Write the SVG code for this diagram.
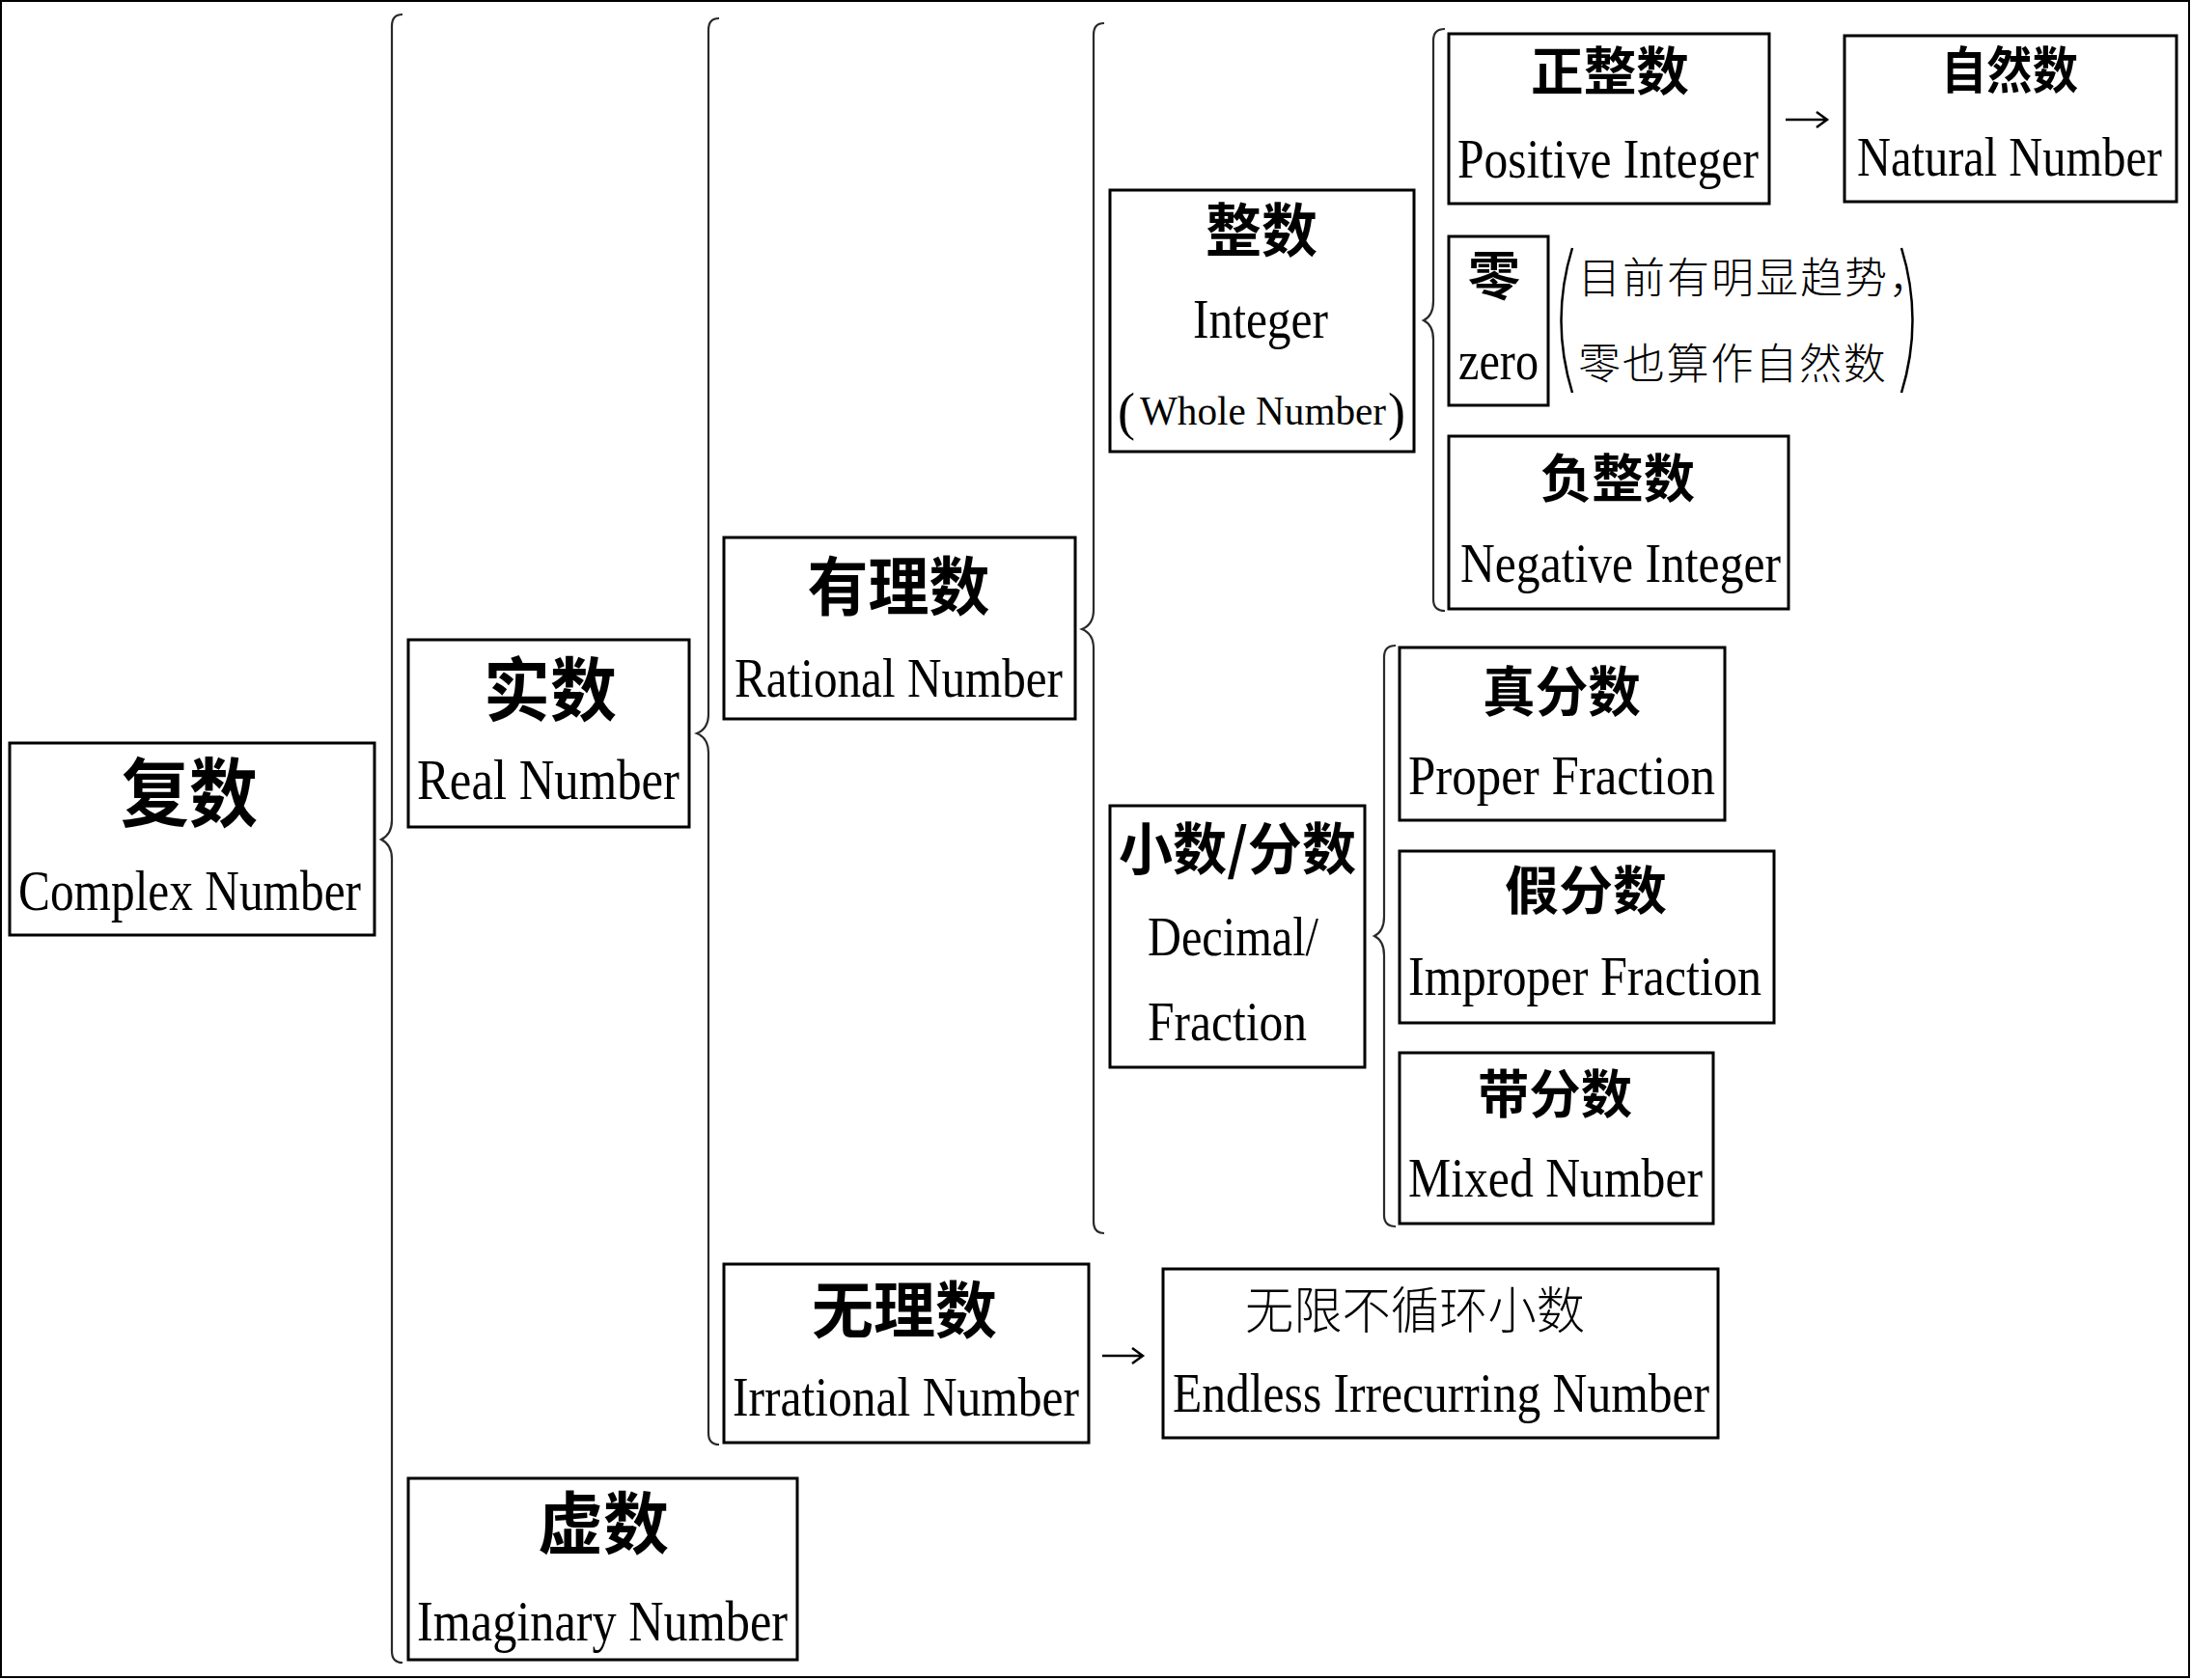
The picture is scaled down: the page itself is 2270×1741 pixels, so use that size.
<svg xmlns="http://www.w3.org/2000/svg" width="2270" height="1741" viewBox="0 0 2270 1741">
<style>
.box{fill:#fff;stroke:#000;stroke-width:3}
.zh{font-family:"Noto Sans CJK SC","Noto Sans CJK TC",sans-serif;font-weight:700;fill:#000;text-anchor:middle}
.zm{font-family:"Noto Sans CJK SC","Noto Sans CJK TC",sans-serif;font-weight:300;fill:#000;text-anchor:middle}
.zl{font-family:"Noto Sans CJK SC","Noto Sans CJK TC",sans-serif;font-weight:300;fill:#000}
.en{font-family:"Liberation Serif","Times New Roman",serif;fill:#000}
.brace{fill:none;stroke:#2a2a2a;stroke-width:2.2}
.arrow{fill:none;stroke:#000;stroke-width:2.5}
.paren{fill:none;stroke:#000;stroke-width:2.5}
</style>
<rect x="1" y="1" width="2267" height="1737" fill="#fff" stroke="#000" stroke-width="2"/>

<g id="connectors">
  <path class="brace" d="M417,15 Q406,15 406,27 L406,850 C406,864 399,868 395,870 C399,872 406,876 406,890 L406,1711 Q406,1723 417,1723"/>
  <path class="brace" d="M745,19 Q734,19 734,31 L734,740 C734,754 727,758 722,760 C727,762 734,766 734,780 L734,1485 Q734,1497 745,1497"/>
  <path class="brace" d="M1144,24 Q1133,24 1133,36 L1133,632 C1133,646 1126,650 1121,652 C1126,654 1133,658 1133,672 L1133,1266 Q1133,1278 1144,1278"/>
  <path class="brace" d="M1497,30 Q1485,30 1485,42 L1485,312 C1485,326 1479,330 1475,332 C1479,334 1485,338 1485,352 L1485,621 Q1485,633 1497,633"/>
  <path class="brace" d="M1446,669 Q1434,669 1434,681 L1434,950 C1434,964 1428,968 1424,970 C1428,972 1434,976 1434,990 L1434,1259 Q1434,1271 1446,1271"/>
  <path class="arrow" d="M1850,124 L1893,124 M1882,116 L1893,124 L1882,132"/>
  <path class="arrow" d="M1142,1405 L1184,1405 M1173,1397 L1184,1405 L1173,1413"/>
</g>

<g id="complex">
  <rect class="box" x="10" y="770" width="378" height="199"/>
  <text class="zh" x="196" y="851" font-size="78" textLength="142" lengthAdjust="spacingAndGlyphs">复数</text>
  <text class="en" x="19" y="943" font-size="60" textLength="355" lengthAdjust="spacingAndGlyphs">Complex Number</text>
</g>

<g id="real">
  <rect class="box" x="423" y="663" width="291" height="194"/>
  <text class="zh" x="570" y="741" font-size="72" textLength="138" lengthAdjust="spacingAndGlyphs">实数</text>
  <text class="en" x="432" y="828" font-size="60" textLength="272" lengthAdjust="spacingAndGlyphs">Real Number</text>
</g>

<g id="imaginary">
  <rect class="box" x="423" y="1532" width="403" height="188"/>
  <text class="zh" x="625" y="1605" font-size="70" textLength="136" lengthAdjust="spacingAndGlyphs">虚数</text>
  <text class="en" x="432" y="1700" font-size="60" textLength="384" lengthAdjust="spacingAndGlyphs">Imaginary Number</text>
</g>

<g id="rational">
  <rect class="box" x="750" y="557" width="364" height="188"/>
  <text class="zh" x="931" y="632" font-size="66" textLength="189" lengthAdjust="spacingAndGlyphs">有理数</text>
  <text class="en" x="761" y="722" font-size="58" textLength="340" lengthAdjust="spacingAndGlyphs">Rational Number</text>
</g>

<g id="irrational">
  <rect class="box" x="750" y="1310" width="378" height="185"/>
  <text class="zh" x="937" y="1381" font-size="64" textLength="192" lengthAdjust="spacingAndGlyphs">无理数</text>
  <text class="en" x="759" y="1467" font-size="58" textLength="359" lengthAdjust="spacingAndGlyphs">Irrational Number</text>
</g>

<g id="endless">
  <rect class="box" x="1205" y="1315" width="575" height="175"/>
  <text class="zm" x="1466" y="1377" font-size="52" textLength="352" lengthAdjust="spacingAndGlyphs">无限不循环小数</text>
  <text class="en" x="1215" y="1463" font-size="57" textLength="556" lengthAdjust="spacingAndGlyphs">Endless Irrecurring Number</text>
</g>

<g id="integer">
  <rect class="box" x="1150" y="197" width="315" height="271"/>
  <text class="zh" x="1307" y="261" font-size="60" textLength="116" lengthAdjust="spacingAndGlyphs">整数</text>
  <text class="en" x="1236" y="350" font-size="57" textLength="140" lengthAdjust="spacingAndGlyphs">Integer</text>
  <text class="en" x="1158" y="445" font-size="54">(</text>
  <text class="en" x="1181" y="440" font-size="42" textLength="255" lengthAdjust="spacingAndGlyphs">Whole Number</text>
  <text class="en" x="1438" y="445" font-size="54">)</text>
</g>

<g id="decimal">
  <rect class="box" x="1150" y="835" width="264" height="271"/>
  <text class="zh" x="1282" y="901" font-size="58" textLength="246" lengthAdjust="spacingAndGlyphs">小数/分数</text>
  <text class="en" x="1189" y="990" font-size="56" textLength="177" lengthAdjust="spacingAndGlyphs">Decimal/</text>
  <text class="en" x="1189" y="1078" font-size="56" textLength="165" lengthAdjust="spacingAndGlyphs">Fraction</text>
</g>

<g id="positive">
  <rect class="box" x="1501" y="35" width="332" height="176"/>
  <text class="zh" x="1668" y="94" font-size="54" textLength="164" lengthAdjust="spacingAndGlyphs">正整数</text>
  <text class="en" x="1510" y="184" font-size="56" textLength="312" lengthAdjust="spacingAndGlyphs">Positive Integer</text>
</g>

<g id="natural">
  <rect class="box" x="1911" y="37" width="344" height="172"/>
  <text class="zh" x="2082" y="92" font-size="52" textLength="142" lengthAdjust="spacingAndGlyphs">自然数</text>
  <text class="en" x="1924" y="182" font-size="56" textLength="316" lengthAdjust="spacingAndGlyphs">Natural Number</text>
</g>

<g id="zero">
  <rect class="box" x="1501" y="245" width="103" height="175"/>
  <text class="zh" x="1548" y="306" font-size="54">零</text>
  <text class="en" x="1511" y="393" font-size="56" textLength="83" lengthAdjust="spacingAndGlyphs">zero</text>
</g>

<g id="zero-note">
  <path class="paren" d="M1629,257 Q1606,332 1629,407"/>
  <path class="paren" d="M1970,257 Q1993,332 1970,407"/>
  <text class="zl" x="1635" y="304" font-size="44" letter-spacing="2">目前有明显趋势，</text>
  <text class="zl" x="1635" y="393" font-size="44" letter-spacing="1.8">零也算作自然数</text>
</g>

<g id="negative">
  <rect class="box" x="1501" y="452" width="352" height="179"/>
  <text class="zh" x="1676" y="516" font-size="54" textLength="160" lengthAdjust="spacingAndGlyphs">负整数</text>
  <text class="en" x="1513" y="603" font-size="56" textLength="332" lengthAdjust="spacingAndGlyphs">Negative Integer</text>
</g>

<g id="proper">
  <rect class="box" x="1450" y="671" width="337" height="179"/>
  <text class="zh" x="1618" y="737" font-size="56" textLength="164" lengthAdjust="spacingAndGlyphs">真分数</text>
  <text class="en" x="1459" y="823" font-size="56" textLength="318" lengthAdjust="spacingAndGlyphs">Proper Fraction</text>
</g>

<g id="improper">
  <rect class="box" x="1450" y="882" width="388" height="178"/>
  <text class="zh" x="1643" y="943" font-size="54" textLength="168" lengthAdjust="spacingAndGlyphs">假分数</text>
  <text class="en" x="1459" y="1031" font-size="56" textLength="366" lengthAdjust="spacingAndGlyphs">Improper Fraction</text>
</g>

<g id="mixed">
  <rect class="box" x="1450" y="1091" width="325" height="177"/>
  <text class="zh" x="1611" y="1154" font-size="54" textLength="160" lengthAdjust="spacingAndGlyphs">带分数</text>
  <text class="en" x="1459" y="1240" font-size="56" textLength="305" lengthAdjust="spacingAndGlyphs">Mixed Number</text>
</g>
</svg>
